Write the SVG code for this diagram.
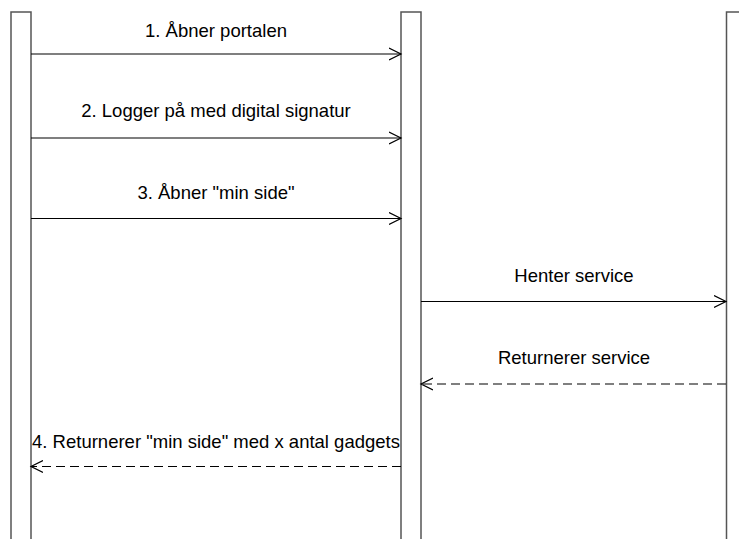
<svg xmlns="http://www.w3.org/2000/svg" width="739" height="539" viewBox="0 0 739 539">
<style>
.bar{fill:#fff;stroke:#555;stroke-width:1.5}
.msg{stroke:#000;stroke-width:1.2;fill:none}
.ret{stroke:#000;stroke-width:1.2;fill:none;stroke-dasharray:9 5}
.lbl{font-family:"Liberation Sans",Arial,sans-serif;font-size:18.5px;fill:#000;text-anchor:middle}
</style>
<defs>
<marker id="ah" markerWidth="14" markerHeight="14" refX="12" refY="7" orient="auto" markerUnits="userSpaceOnUse">
<path d="M0,1 L12,7 L0,13" fill="none" stroke="#000" stroke-width="1.2"/>
</marker>
</defs>
<g id="lifeline-user"><rect class="bar" x="11" y="12" width="20" height="540"/></g>
<g id="lifeline-portal"><rect class="bar" x="401" y="12" width="20" height="540"/></g>
<g id="lifeline-service"><rect class="bar" x="726.5" y="12" width="20" height="540"/></g>
<g id="connectors">
<line class="msg" x1="31" y1="54" x2="401" y2="54" marker-end="url(#ah)"/>
<line class="msg" x1="31" y1="138" x2="401" y2="138" marker-end="url(#ah)"/>
<line class="msg" x1="31" y1="218.5" x2="401" y2="218.5" marker-end="url(#ah)"/>
<line class="msg" x1="421" y1="301.5" x2="726" y2="301.5" marker-end="url(#ah)"/>
<line class="ret" x1="726" y1="384" x2="421" y2="384" marker-end="url(#ah)"/>
<line class="ret" x1="401" y1="466.5" x2="31" y2="466.5" marker-end="url(#ah)"/>
</g>
<g id="labels">
<text class="lbl" x="216" y="37">1. Åbner portalen</text>
<text class="lbl" x="216" y="117">2. Logger på med digital signatur</text>
<text class="lbl" x="216" y="199">3. Åbner "min side"</text>
<text class="lbl" x="574" y="282">Henter service</text>
<text class="lbl" x="574" y="364">Returnerer service</text>
<text class="lbl" x="216" y="448">4. Returnerer "min side" med x antal gadgets</text>
</g>
</svg>
